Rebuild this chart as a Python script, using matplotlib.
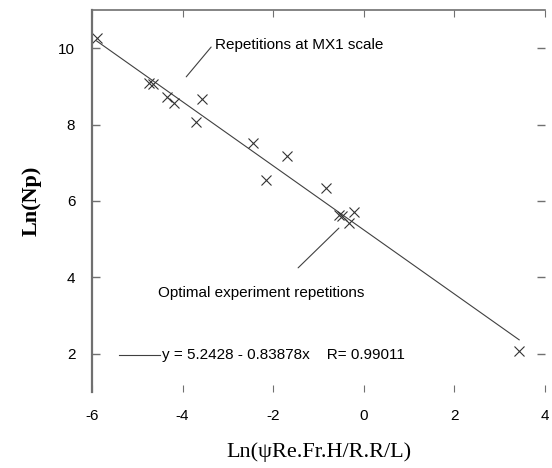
import numpy as np
import matplotlib.pyplot as plt

x_vals = [-5.89, -4.74, -4.65, -4.34, -4.19, -3.57, -3.70, -2.45, -2.16,
          -1.69, -0.83, -0.55, -0.48, -0.21, -0.33, 3.43]
y_vals = [10.28, 9.09, 9.06, 8.73, 8.57, 8.68, 8.08, 7.51, 6.55,
          7.19, 6.34, 5.64, 5.60, 5.71, 5.43, 2.08]

# fitted line reported on the chart
intercept = 5.2428
slope = -0.83878
r_value = 0.99011
fit_range = [-5.9, 3.43]

x_ticks = [-6, -4, -2, 0, 2, 4]
y_ticks = [2, 4, 6, 8, 10]

plt.rcParams['font.family'] = ['Liberation Sans', 'DejaVu Sans']
plt.rcParams['axes.unicode_minus'] = False

fig = plt.figure(figsize=(5.52, 4.68), dpi=100)
ax = fig.add_axes([92 / 552, 1 - 392 / 468, 453 / 552, 382 / 468])

fx = np.array(fit_range)
ax.plot(fx, intercept + slope * fx, color='#404040', lw=0.8)
ax.plot(x_vals, y_vals, 'x', color='#333333', ms=7, mew=0.8)

ax.set_xlim(-6, 4)
ax.set_ylim(1, 11)
ax.set_xticks(x_ticks)
ax.set_yticks(y_ticks)

for s in ['bottom', 'right']:
    ax.spines[s].set_visible(False)
ax.spines['left'].set_color('#707070')
ax.spines['left'].set_linewidth(1.6)
ax.spines['top'].set_color('#707070')
ax.spines['top'].set_linewidth(1.2)

ax.tick_params(axis='both', direction='in', colors='#707070', labelcolor='black',
               labelsize=11)
ax.tick_params(axis='y', length=6, width=1, pad=12, right=True)
ax.tick_params(axis='x', length=5, width=0.8, pad=12, top=True)

ax.set_ylabel('Ln(Np)', family='Liberation Serif', fontweight='bold', fontsize=16,
              labelpad=12)
ax.set_xlabel('Ln(\u03c8Re.Fr.H/R.R/L)', family='Liberation Serif', fontsize=16,
              labelpad=14)

leader = dict(arrowstyle='-', color='#404040', lw=0.8, shrinkA=0, shrinkB=0)

# annotations: text and separate leader strokes
ax.text(-3.28, 10.08, 'Repetitions at MX1 scale', fontsize=11, va='center', ha='left')
ax.annotate('', xy=(-3.92, 9.25), xytext=(-3.37, 10.03), arrowprops=leader)

ax.text(-4.54, 3.59, 'Optimal experiment repetitions', fontsize=11,
        va='center', ha='left')
ax.annotate('', xy=(-0.55, 5.29), xytext=(-1.45, 4.25), arrowprops=leader)

# legend-like fit label
ax.plot([-5.4, -4.5], [1.98, 1.98], color='#404040', lw=0.8)
ax.text(-4.45, 1.98, f'y = {intercept} - {abs(slope)}x    R= {r_value}',
        fontsize=11, va='center', ha='left')

fig.savefig('out.png', dpi=100)
